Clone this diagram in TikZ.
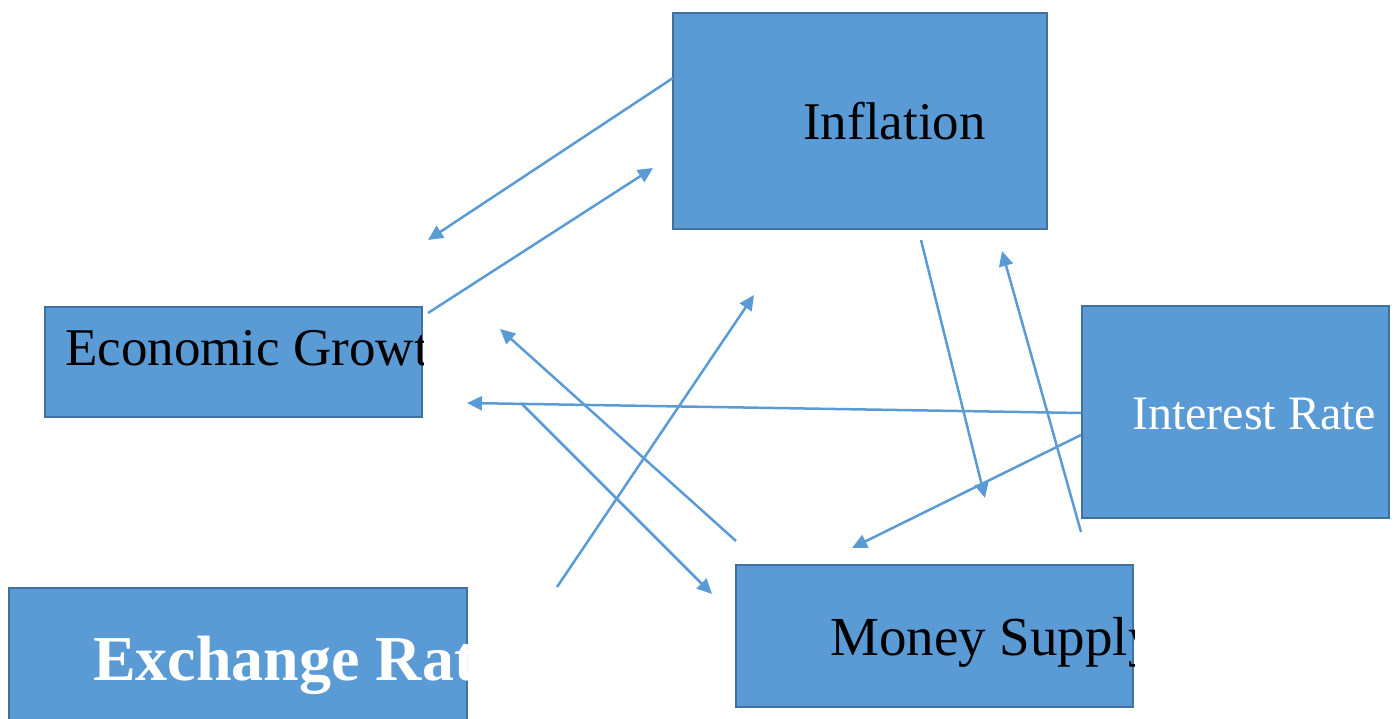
\documentclass[tikz,border=0pt]{standalone}
\usepackage{fontspec}
\setmainfont{Liberation Serif}
\usetikzlibrary{arrows.meta}
\definecolor{boxblue}{HTML}{5B9BD5}
\definecolor{boxline}{HTML}{41719C}
\begin{document}
\begin{tikzpicture}[x=1pt,y=-1pt]
        \tikzstyle{box}=[draw=boxline,fill=boxblue,line width=2pt,inner sep=0pt,anchor=north west];
        \tikzstyle{lbl}=[inner sep=0pt,anchor=base west];
        \tikzstyle{arr}=[draw=boxblue,line width=2.5pt,-{Triangle[length=15pt,width=14pt]}];
        \useasboundingbox (0,0) rectangle (1395,719);
        % boxes
        \node[box,minimum width=374pt,minimum height=216pt] (infl) at (672,12) {};
        \node[box,minimum width=377pt,minimum height=110pt] (eco) at (44,306) {};
        \node[box,minimum width=307pt,minimum height=212pt] (rate) at (1081,305) {};
        \node[box,minimum width=397pt,minimum height=142pt] (money) at (735,564) {};
        \node[box,minimum width=458pt,minimum height=140pt] (exch) at (8,587) {};
        % labels, cut off at the box edge
        \begin{scope}
        \clip (infl.north west) rectangle (infl.south east);
        \node[lbl,font=\fontsize{53}{60}\selectfont] (infltext) at (803,140) {Inflation};
        \end{scope}
        \begin{scope}
        \clip (eco.north west) rectangle (eco.south east);
        \node[lbl,font=\fontsize{53}{60}\selectfont] (ecotext) at (65,365) {Economic Growth};
        \end{scope}
        \begin{scope}
        \clip (rate.north west) rectangle (rate.south east);
        \node[lbl,text=white,font=\fontsize{48}{54}\selectfont] (ratetext) at (1132,429) {Interest Rate};
        \end{scope}
        \begin{scope}
        \clip (money.north west) rectangle (money.south east);
        \node[lbl,font=\fontsize{55}{60}\selectfont] (moneytext) at (830,655) {Money Supply};
        \end{scope}
        \begin{scope}
        \clip (exch.north west) rectangle (exch.south east);
        \node[lbl,text=white,font=\bfseries\fontsize{64}{70}\selectfont] (exchtext) at (93,680) {Exchange Rate};
        \end{scope}
        % arrow ends
        \coordinate (a1) at (673,78);   \coordinate (b1) at (428,240);
        \coordinate (a2) at (428,313);  \coordinate (b2) at (653,168);
        \coordinate (a3) at (1081,413); \coordinate (b3) at (467,403);
        \coordinate (a4) at (1081,435); \coordinate (b4) at (852,548);
        \coordinate (a5) at (921,240);  \coordinate (b5) at (985,498);
        \coordinate (a6) at (1081,532); \coordinate (b6) at (1002,251);
        \coordinate (a7) at (736,541);  \coordinate (b7) at (500,329);
        \coordinate (a8) at (521,403);  \coordinate (b8) at (712,594);
        \coordinate (a9) at (557,587);  \coordinate (b9) at (754,295);
        \foreach \i in {1,...,9}
          \draw[arr] (a\i)--(b\i);
        \end{tikzpicture}
\end{document}
